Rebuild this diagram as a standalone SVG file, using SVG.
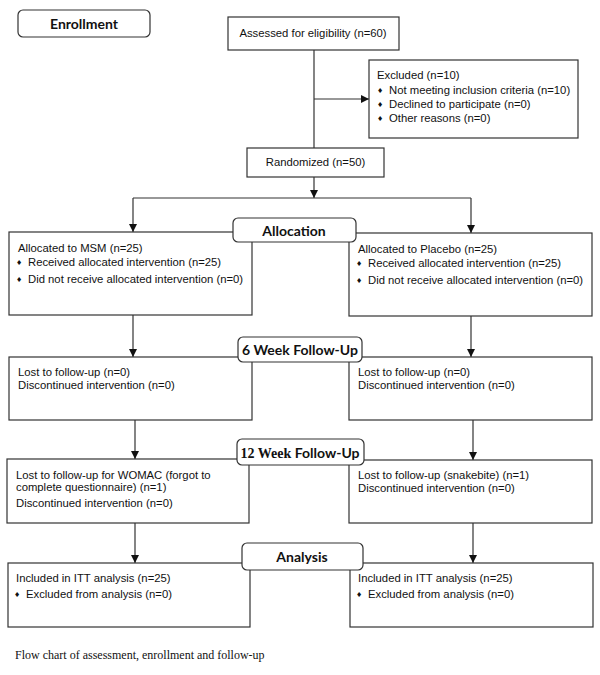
<svg xmlns="http://www.w3.org/2000/svg" width="600" height="675" viewBox="0 0 600 675">
<defs>
<marker id="arr" markerUnits="userSpaceOnUse" markerWidth="8" markerHeight="8" refX="8" refY="4" orient="auto">
<path d="M0,0 L8,4 L0,8 z" fill="#111"/>
</marker>
<style>
.box{fill:#fff;stroke:#333;stroke-width:1.2}
.lbl{fill:#fff;stroke:#333;stroke-width:1.2}
.t{font-family:"Liberation Sans",Arial,sans-serif;font-size:11.3px;fill:#111}
.b{font-family:"DejaVu Sans",sans-serif;font-size:7px;fill:#111}
.h{font-family:Lato,"Open Sans",sans-serif;font-size:14px;font-weight:bold;fill:#111;text-anchor:middle}
.c{font-family:"Liberation Serif","Times New Roman",serif;font-size:12px;fill:#111}
.ln{fill:none;stroke:#333;stroke-width:1.2}
</style>
</defs>
<rect width="600" height="675" fill="#fff"/>

<g id="connectors">
<path class="ln" d="M314,50 V148"/>
<path class="ln" d="M314,99 H369" marker-end="url(#arr)"/>
<path class="ln" d="M314,177 V198" marker-end="url(#arr)"/>
<path class="ln" d="M133,198 H471"/>
<path class="ln" d="M133,198 V232" marker-end="url(#arr)"/>
<path class="ln" d="M471,198 V233" marker-end="url(#arr)"/>
<path class="ln" d="M133,315 V357" marker-end="url(#arr)"/>
<path class="ln" d="M471,316 V357" marker-end="url(#arr)"/>
<path class="ln" d="M135,420 V459" marker-end="url(#arr)"/>
<path class="ln" d="M473,420 V460" marker-end="url(#arr)"/>
<path class="ln" d="M135,523 V563" marker-end="url(#arr)"/>
<path class="ln" d="M473,523 V563" marker-end="url(#arr)"/>
</g>

<g id="enrollment">
<rect class="lbl" x="18" y="10" width="132" height="27" rx="5"/>
<text class="h" x="84" y="29">Enrollment</text>
</g>

<g id="assessed">
<rect class="box" x="228" y="17" width="171" height="33"/>
<text class="t" x="313" y="37" text-anchor="middle">Assessed for eligibility (n=60)</text>
</g>

<g id="excluded">
<rect class="box" x="369" y="60" width="209" height="78"/>
<text class="t" x="377" y="79">Excluded (n=10)</text>
<text class="b" x="377" y="93">♦</text><text class="t" x="389" y="94">Not meeting inclusion criteria (n=10)</text>
<text class="b" x="377" y="107">♦</text><text class="t" x="389" y="108">Declined to participate (n=0)</text>
<text class="b" x="377" y="121">♦</text><text class="t" x="389" y="122">Other reasons (n=0)</text>
</g>

<g id="randomized">
<rect class="box" x="247" y="148" width="137" height="29"/>
<text class="t" x="315.5" y="166" text-anchor="middle">Randomized (n=50)</text>
</g>

<g id="alloc-msm">
<rect class="box" x="9" y="232" width="243" height="83"/>
<text class="t" x="18" y="252">Allocated to MSM (n=25)</text>
<text class="b" x="16" y="265">♦</text><text class="t" x="28" y="266">Received allocated intervention (n=25)</text>
<text class="b" x="16" y="282">♦</text><text class="t" x="28" y="283">Did not receive allocated intervention (n=0)</text>
</g>

<g id="alloc-placebo">
<rect class="box" x="349" y="233" width="243" height="83"/>
<text class="t" x="358" y="253">Allocated to Placebo (n=25)</text>
<text class="b" x="356" y="266">♦</text><text class="t" x="368" y="267">Received allocated intervention (n=25)</text>
<text class="b" x="356" y="283">♦</text><text class="t" x="368" y="284">Did not receive allocated intervention (n=0)</text>
</g>

<g id="allocation-label">
<rect class="lbl" x="233" y="218" width="123" height="24" rx="5"/>
<text class="h" x="294" y="236">Allocation</text>
</g>

<g id="fu6-msm">
<rect class="box" x="9" y="357" width="243" height="63"/>
<text class="t" x="18" y="376">Lost to follow-up (n=0)</text>
<text class="t" x="18" y="389">Discontinued intervention (n=0)</text>
</g>

<g id="fu6-placebo">
<rect class="box" x="349" y="357" width="243" height="63"/>
<text class="t" x="358" y="376">Lost to follow-up (n=0)</text>
<text class="t" x="358" y="389">Discontinued intervention (n=0)</text>
</g>

<g id="fu6-label">
<rect class="lbl" x="238" y="337" width="124" height="25" rx="5"/>
<text class="h" x="300" y="355">6 Week Follow-Up</text>
</g>

<g id="fu12-msm">
<rect class="box" x="7" y="459" width="242" height="64"/>
<text class="t" x="16" y="479">Lost to follow-up for WOMAC (forgot to</text>
<text class="t" x="16" y="491">complete questionnaire) (n=1)</text>
<text class="t" x="16" y="507">Discontinued intervention (n=0)</text>
</g>

<g id="fu12-placebo">
<rect class="box" x="349" y="460" width="243" height="63"/>
<text class="t" x="358" y="479">Lost to follow-up (snakebite) (n=1)</text>
<text class="t" x="358" y="492">Discontinued intervention (n=0)</text>
</g>

<g id="fu12-label">
<rect class="lbl" x="237" y="439" width="127" height="26" rx="5"/>
<text class="h" x="300" y="458"><tspan font-family="'Liberation Serif',serif">12 Week </tspan>Follow-Up</text>
</g>

<g id="analysis-msm">
<rect class="box" x="8" y="563" width="242" height="64"/>
<text class="t" x="16" y="582">Included in ITT analysis (n=25)</text>
<text class="b" x="14" y="597">♦</text><text class="t" x="26" y="598">Excluded from analysis (n=0)</text>
</g>

<g id="analysis-placebo">
<rect class="box" x="350" y="563" width="243" height="64"/>
<text class="t" x="358" y="582">Included in ITT analysis (n=25)</text>
<text class="b" x="356" y="597">♦</text><text class="t" x="368" y="598">Excluded from analysis (n=0)</text>
</g>

<g id="analysis-label">
<rect class="lbl" x="242" y="543" width="121" height="27" rx="5"/>
<text class="h" x="302" y="562">Analysis</text>
</g>

<text class="c" x="15" y="659">Flow chart of assessment, enrollment and follow-up</text>
</svg>
